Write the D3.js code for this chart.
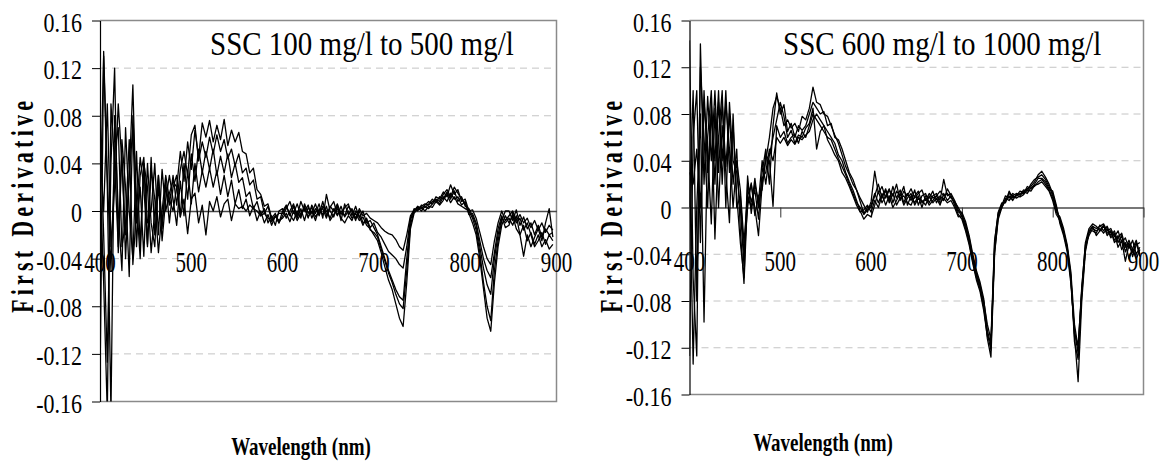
<!DOCTYPE html>
<html><head><meta charset="utf-8">
<script src="https://cdn.jsdelivr.net/npm/d3@7"></script>
<style>
body{margin:0;background:#fff}
svg{display:block}
</style>
</head><body>
<svg id="chart" width="1166" height="466"></svg>
<script>
const SERIF = '"Liberation Serif", "Times New Roman", Times, serif';
// Wavelength sampling (nm), 4 nm steps
const wavelengths = d3.range(400, 897, 4);
const yTicks = [-0.16, -0.12, -0.08, -0.04, 0, 0.04, 0.08, 0.12, 0.16];
const yTickLabels = ["-0.16", "-0.12", "-0.08", "-0.04", "0", "0.04", "0.08", "0.12", "0.16"];
const xTicks = [400, 500, 600, 700, 800, 900];
const xTickLabels = ["400", "500", "600", "700", "800", "900"];
const panelTitles = ["SSC 100 mg/l to 500 mg/l", "SSC 600 mg/l to 1000 mg/l"];
const yAxisTitle = "First Derivative";
const xAxisTitle = "Wavelength (nm)";

// Left panel: SSC 100–500 mg/l
const low1 = [
 -0.145,0.134,0.03,-0.05,0.05,0.07,-0.03,-0.01,0.06,-0.045,0.0,0.045,0.02,-0.03,0.035,0.01,-0.035,0.0,0.03,0.01,0.0,
 0.02,0.05,0.025,0.058,0.035,0.068,0.045,0.074,0.062,0.076,0.058,0.072,0.06,0.077,0.055,0.068,0.058,0.066,0.05,0.048,0.032,0.036,0.018,0.014,0.004,0.006,-0.006,-0.002,-0.01,
 0.0,0.005,-0.004,0.004,-0.006,0.002,-0.008,0.003,-0.002,0.006,-0.004,0.004,0.0,-0.006,0.002,-0.004,0.004,-0.005,0.0,-0.006,-0.002,-0.008,-0.005,-0.012,-0.015,
 -0.02,-0.025,-0.035,-0.047,-0.058,-0.066,-0.078,-0.09,-0.097,-0.06,-0.015,-0.002,
 0.002,0.004,0.006,0.005,0.008,0.01,0.008,0.014,0.018,0.012,0.02,0.015,0.01,0.006,-0.002,
 -0.01,-0.02,-0.04,-0.065,-0.09,-0.101,-0.06,-0.03,-0.012,-0.004,
 -0.01,-0.004,-0.015,-0.02,-0.012,-0.025,-0.018,-0.028,-0.02,-0.03,-0.024,-0.032,-0.028];
const low2 = [
 0.08,-0.02,-0.127,0.04,0.12,-0.035,0.05,-0.04,0.03,0.106,-0.01,0.02,-0.038,0.04,-0.01,-0.03,0.03,-0.01,0.02,0.005,0.03,
 0.005,0.035,0.05,0.03,0.064,0.072,0.042,0.058,0.045,0.062,0.048,0.064,0.05,0.06,0.044,0.052,0.038,0.048,0.032,0.036,0.022,0.026,0.01,0.012,-0.002,0.004,-0.008,-0.004,-0.01,
 -0.004,0.002,0.008,-0.002,0.006,-0.004,0.004,-0.006,0.005,-0.002,0.006,-0.006,0.014,0.0,-0.005,0.005,-0.008,0.006,-0.003,0.002,-0.006,0.0,-0.01,-0.008,-0.016,
 -0.018,-0.022,-0.032,-0.042,-0.052,-0.06,-0.07,-0.078,-0.082,-0.05,-0.012,0.0,
 0.004,0.002,0.005,0.008,0.006,0.012,0.01,0.016,0.012,0.022,0.014,0.018,0.008,0.01,0.0,
 -0.006,-0.016,-0.035,-0.06,-0.08,-0.092,-0.05,-0.025,-0.008,0.0,
 0.0,-0.008,0.001,-0.012,-0.005,-0.015,-0.01,-0.02,-0.012,-0.022,-0.015,-0.02,-0.018];
const low3 = [
 0.0,0.13,0.02,-0.17,0.08,0.0,-0.05,0.07,0.0,-0.04,0.05,-0.03,0.04,-0.028,0.045,-0.02,0.02,-0.015,0.025,-0.01,0.02,
 0.03,-0.005,0.04,0.01,0.048,0.025,0.052,0.032,0.05,0.035,0.052,0.03,0.046,0.032,0.048,0.028,0.04,0.024,0.028,0.012,0.016,0.002,0.008,-0.004,0.002,-0.01,-0.004,-0.012,0.0,
 0.002,-0.006,0.0,0.006,-0.004,0.008,0.0,0.005,-0.006,0.002,-0.003,0.008,-0.004,0.004,0.0,0.006,-0.003,0.003,0.006,-0.004,0.004,-0.006,0.0,-0.01,-0.008,
 -0.014,-0.02,-0.03,-0.04,-0.05,-0.058,-0.066,-0.072,-0.075,-0.04,-0.008,0.002,
 0.0,0.005,0.003,0.006,0.01,0.007,0.012,0.01,0.016,0.01,0.017,0.008,0.012,0.004,0.002,
 -0.004,-0.012,-0.03,-0.048,-0.062,-0.07,-0.04,-0.02,-0.006,-0.01,
 -0.006,-0.012,-0.004,-0.02,-0.038,-0.02,-0.03,-0.022,-0.015,-0.025,-0.01,0.002,-0.022];
const low4 = [
 0.03,-0.06,-0.17,0.09,0.04,-0.03,0.06,0.02,-0.055,0.08,0.01,-0.04,0.04,0.02,-0.035,0.0,0.03,-0.025,0.01,0.03,0.01,
 -0.012,0.025,-0.004,0.034,0.006,0.04,0.016,0.034,0.02,0.036,0.02,0.034,0.014,0.03,0.012,0.026,0.006,0.018,0.002,0.01,-0.004,0.004,-0.008,0.0,-0.01,-0.003,-0.012,-0.004,-0.008,
 -0.006,-0.002,-0.009,0.0,-0.008,-0.002,0.002,-0.005,0.0,-0.008,0.002,-0.003,0.004,-0.008,-0.003,0.002,-0.006,-0.01,-0.004,-0.008,0.0,-0.004,-0.012,-0.006,-0.014,
 -0.01,-0.018,-0.022,-0.028,-0.034,-0.037,-0.04,-0.045,-0.048,-0.03,-0.006,0.0,
 0.003,0.0,0.004,0.002,0.006,0.009,0.006,0.012,0.008,0.015,0.01,0.012,0.005,0.008,-0.003,
 -0.002,-0.01,-0.025,-0.04,-0.05,-0.056,-0.035,-0.015,-0.004,-0.014,
 -0.012,-0.002,-0.01,-0.006,-0.016,-0.01,-0.02,-0.03,-0.025,-0.018,-0.028,-0.02,-0.025];
const low5 = [
 0.05,0.0,0.09,-0.03,0.02,0.09,0.04,-0.02,0.03,0.07,-0.03,0.03,0.045,-0.01,0.0,0.04,-0.02,0.035,0.0,0.015,0.025,
 0.02,-0.005,0.01,-0.019,0.01,0.015,-0.01,0.005,-0.02,0.008,0.0,0.012,-0.005,0.006,0.01,-0.008,0.006,0.002,0.004,0.0,0.005,0.002,0.0,-0.004,-0.002,-0.006,-0.009,-0.005,-0.002,
 -0.002,0.004,-0.003,-0.008,0.0,-0.006,0.006,-0.002,0.003,-0.005,0.0,0.002,-0.006,0.003,0.008,-0.003,0.0,-0.004,0.004,0.0,-0.008,0.002,-0.004,-0.002,-0.006,
 -0.008,-0.01,-0.014,-0.017,-0.019,-0.02,-0.024,-0.03,-0.033,-0.02,-0.004,0.001,
 0.001,0.003,0.0,0.004,0.003,0.008,0.005,0.009,0.014,0.007,0.012,0.006,0.004,0.002,0.0,
 0.001,-0.006,-0.018,-0.03,-0.04,-0.045,-0.025,-0.01,0.0,-0.008,
 -0.004,0.0,-0.008,-0.003,-0.01,-0.006,-0.014,-0.008,-0.016,-0.01,-0.018,-0.012,-0.016];

// Right panel: SSC 600–1000 mg/l
const high1 = [
 0.143,-0.06,-0.127,0.14,0.02,0.095,0.04,0.1,0.03,0.09,0.035,0.08,0.02,0.05,-0.02,-0.065,0.01,0.02,0.0,-0.024,0.02,
 0.04,0.06,0.085,0.095,0.085,0.07,0.075,0.068,0.072,0.065,0.078,0.075,0.085,0.103,0.09,0.088,0.08,0.078,0.07,0.062,0.055,0.045,0.035,0.028,0.02,0.015,0.008,0.002,-0.004,
 0.005,0.031,0.012,0.018,0.008,0.015,0.01,0.02,0.006,0.014,0.01,0.016,0.008,0.012,0.015,0.006,0.012,0.008,0.01,0.014,0.01,0.012,0.008,0.005,0.0,
 -0.006,-0.014,-0.026,-0.042,-0.056,-0.066,-0.082,-0.112,-0.128,-0.04,-0.008,0.002,
 0.01,0.008,0.012,0.01,0.014,0.013,0.016,0.018,0.022,0.028,0.031,0.026,0.02,0.012,0.0,
 -0.012,-0.022,-0.035,-0.06,-0.11,-0.149,-0.08,-0.038,-0.022,-0.016,
 -0.018,-0.016,-0.014,-0.02,-0.018,-0.025,-0.02,-0.03,-0.026,-0.035,-0.028,-0.04,-0.034];
const high2 = [
 0.04,-0.134,0.0,0.08,-0.098,0.06,0.1,0.02,0.09,0.04,0.1,0.03,0.07,0.01,-0.03,-0.06,0.02,0.005,0.015,-0.01,0.03,
 0.05,0.02,0.07,0.098,0.08,0.088,0.065,0.072,0.06,0.07,0.066,0.07,0.08,0.09,0.085,0.08,0.082,0.07,0.072,0.06,0.058,0.05,0.04,0.03,0.024,0.015,0.005,-0.005,0.0,
 0.0,0.01,0.02,0.008,0.016,0.006,0.018,0.008,0.015,0.004,0.012,0.006,0.015,0.002,0.01,0.012,0.004,0.01,0.012,0.006,0.024,0.01,0.012,0.006,-0.002,
 -0.008,-0.018,-0.03,-0.046,-0.06,-0.07,-0.085,-0.108,-0.122,-0.035,-0.006,0.0,
 0.006,0.012,0.01,0.012,0.011,0.015,0.014,0.02,0.024,0.026,0.028,0.024,0.018,0.01,-0.002,
 -0.01,-0.02,-0.034,-0.058,-0.115,-0.13,-0.075,-0.035,-0.02,-0.02,
 -0.022,-0.015,-0.02,-0.016,-0.024,-0.02,-0.03,-0.024,-0.038,-0.03,-0.042,-0.032,-0.03];
const high3 = [
 0.0,0.1,-0.08,0.12,0.06,0.0,0.09,-0.027,0.06,0.1,0.0,0.09,0.04,0.03,0.0,-0.05,0.027,-0.005,0.02,0.005,0.04,
 0.02,0.045,0.06,0.075,0.09,0.078,0.06,0.066,0.055,0.062,0.06,0.068,0.072,0.085,0.05,0.065,0.07,0.065,0.06,0.055,0.045,0.04,0.03,0.022,0.015,0.006,-0.003,-0.01,-0.006,
 -0.008,0.002,0.014,0.004,0.01,0.016,0.004,0.014,0.01,0.018,0.002,0.01,0.004,0.01,0.0,0.01,0.008,0.014,0.004,0.01,0.006,0.016,0.01,0.004,-0.004,
 -0.004,-0.012,-0.024,-0.04,-0.054,-0.064,-0.078,-0.105,-0.118,-0.03,-0.004,0.004,
 0.004,0.014,0.008,0.01,0.012,0.012,0.018,0.016,0.02,0.025,0.025,0.022,0.016,0.014,0.002,
 -0.014,-0.024,-0.038,-0.065,-0.105,-0.125,-0.07,-0.03,-0.018,-0.014,
 -0.016,-0.02,-0.015,-0.024,-0.02,-0.028,-0.024,-0.036,-0.03,-0.044,-0.035,-0.028,-0.04];
const high4 = [
 -0.127,0.06,0.1,-0.03,0.09,0.05,-0.014,0.085,0.0,0.07,0.03,-0.013,0.08,0.0,0.01,-0.04,0.0,0.021,-0.007,0.01,0.015,
 0.045,0.04,0.001,0.07,0.06,0.065,0.055,0.06,0.063,0.055,0.065,0.06,0.07,0.08,0.075,0.07,0.065,0.06,0.058,0.05,0.042,0.035,0.028,0.02,0.012,0.004,0.0,-0.006,-0.002,
 0.002,0.012,0.004,0.012,0.002,0.01,0.0,0.006,0.012,0.002,0.008,0.012,0.002,0.008,0.006,0.002,0.01,0.004,0.008,0.002,0.012,0.006,0.01,0.002,-0.006,
 -0.01,-0.02,-0.032,-0.048,-0.062,-0.072,-0.088,-0.11,-0.115,-0.038,-0.01,0.0,
 0.008,0.006,0.01,0.008,0.01,0.014,0.012,0.017,0.018,0.022,0.024,0.02,0.015,0.008,-0.004,
 -0.008,-0.018,-0.032,-0.055,-0.1,-0.12,-0.068,-0.032,-0.024,-0.018,
 -0.02,-0.018,-0.022,-0.018,-0.026,-0.022,-0.034,-0.028,-0.046,-0.032,-0.038,-0.03,-0.042];
const high5 = [
 0.03,0.02,0.05,0.0,0.1,0.03,0.08,0.04,0.1,0.02,0.09,0.05,0.0,0.04,0.015,-0.03,0.01,0.0,0.025,0.0,0.025,
 0.03,0.05,0.04,0.06,0.055,0.06,0.053,0.058,0.054,0.06,0.058,0.062,0.065,0.075,0.08,0.075,0.07,0.058,0.052,0.045,0.04,0.03,0.025,0.018,0.01,0.002,-0.004,-0.002,0.002,
 -0.004,0.006,0.0,0.01,0.014,0.004,0.012,0.002,0.008,0.01,0.004,0.002,0.01,0.014,0.004,0.008,0.002,0.006,0.01,0.004,0.008,0.004,0.006,0.0,-0.008,
 -0.007,-0.016,-0.028,-0.044,-0.058,-0.068,-0.08,-0.1,-0.113,-0.028,-0.005,0.003,
 0.005,0.01,0.006,0.011,0.009,0.011,0.015,0.014,0.019,0.02,0.022,0.018,0.014,0.006,-0.006,
 -0.011,-0.021,-0.036,-0.062,-0.108,-0.118,-0.072,-0.036,-0.02,-0.016,
 -0.024,-0.02,-0.016,-0.022,-0.02,-0.03,-0.026,-0.022,-0.034,-0.028,-0.036,-0.044,-0.036];

const panels = [
  {series: [low1, low2, low3, low4, low5], box: {l: 100, r: 556.5, t: 20.5, b: 401.5},
   title: panelTitles[0], titlePos: [210, 55], yTitleX: 33, yTitleY: 207,
   xTitlePos: [301, 455], xLabY: 272, xTickLen: 0},
  {series: [high1, high2, high3, high4, high5], box: {l: 689.5, r: 1143.5, t: 20.5, b: 394.5},
   title: panelTitles[1], titlePos: [783, 55], yTitleX: 622, yTitleY: 207,
   xTitlePos: [823, 451], xLabY: 271, xTickLen: 10}
];

const svg = d3.select("#chart");

panels.forEach((p, pi) => {
  const {l, r, t, b} = p.box;
  const x = d3.scaleLinear().domain([400, 900]).range([l, r]);
  const y = d3.scaleLinear().domain([-0.16, 0.16]).range([b, t]);
  const g = svg.append("g");

  // dashed gridlines
  g.selectAll("line.grid").data(yTicks.filter(v => Math.abs(v) > 1e-9 && Math.abs(Math.abs(v) - 0.16) > 1e-9))
    .join("line").attr("class", "grid")
    .attr("x1", l).attr("x2", r).attr("y1", d => y(d)).attr("y2", d => y(d))
    .attr("stroke", "#c4c4c4").attr("stroke-width", 1).attr("stroke-dasharray", "7,5");

  // plot border (top, right, bottom)
  g.append("path")
    .attr("d", `M${l},${y(0.16)}H${r}V${y(-0.16)}H${l}`)
    .attr("fill", "none").attr("stroke", "#8a8a8a").attr("stroke-width", 1.5);

  // zero line (x axis) with ticks
  const xAxis = d3.axisBottom(x).tickValues(xTicks.slice(1)).tickSize(p.xTickLen).tickSizeOuter(0).tickFormat("");
  const xa = g.append("g").attr("transform", `translate(0,${y(0)})`).call(xAxis);
  xa.select(".domain").attr("stroke", "#4a4a4a").attr("stroke-width", 1.4);
  xa.selectAll(".tick line").attr("stroke", "#333").attr("stroke-width", 1);

  // clip
  const clipId = "clip" + pi;
  svg.append("clipPath").attr("id", clipId).append("rect")
    .attr("x", l).attr("y", t).attr("width", r - l).attr("height", b - t);

  const line = d3.line().x((d, i) => x(wavelengths[i])).y(d => y(d));
  g.append("g").attr("clip-path", `url(#${clipId})`)
    .selectAll("path").data(p.series).join("path")
    .attr("d", line).attr("fill", "none").attr("stroke", "#000")
    .attr("stroke-width", 1.3).attr("stroke-linejoin", "round");

  // y axis
  const yAxis = d3.axisLeft(y).tickValues(yTicks).tickSize(8).tickSizeOuter(0).tickPadding(10)
    .tickFormat((d, i) => yTickLabels[i]);
  const ya = g.append("g").attr("transform", `translate(${l},0)`).call(yAxis)
    .attr("font-family", null).attr("font-size", null);
  ya.select(".domain").attr("stroke", "#000").attr("stroke-width", 1.2);
  ya.selectAll(".tick line").attr("stroke", "#000").attr("stroke-width", 1);
  ya.selectAll(".tick text")
    .style("font-family", SERIF).style("font-size", "22px").attr("fill", "#000")
    .attr("dy", "0.4em").attr("transform", "scale(1,1.2)");

  // x tick labels
  g.selectAll("text.xl").data(xTicks).join("text").attr("class", "xl")
    .attr("transform", d => `translate(${x(d)},${p.xLabY}) scale(1,1.45)`)
    .attr("text-anchor", "middle")
    .style("font-family", SERIF).style("font-size", "21px")
    .text((d, i) => xTickLabels[i]);

  // panel title
  g.append("text")
    .attr("transform", `translate(${p.titlePos[0]},${p.titlePos[1]}) scale(1,1.15)`)
    .style("font-family", SERIF).style("font-size", "29px").text(p.title);

  // y axis title
  g.append("text")
    .attr("transform", `translate(${p.yTitleX},${p.yTitleY}) rotate(-90) scale(1,1.4)`)
    .attr("text-anchor", "middle")
    .style("font-family", SERIF).style("font-size", "22px").style("font-weight", "bold")
    .attr("textLength", 212).attr("lengthAdjust", "spacing")
    .text(yAxisTitle);

  // x axis title
  g.append("text")
    .attr("transform", `translate(${p.xTitlePos[0]},${p.xTitlePos[1]}) scale(1,1.3)`)
    .attr("text-anchor", "middle")
    .style("font-family", SERIF).style("font-size", "19px").style("font-weight", "bold")
    .text(xAxisTitle);
});
</script>
</body></html>
